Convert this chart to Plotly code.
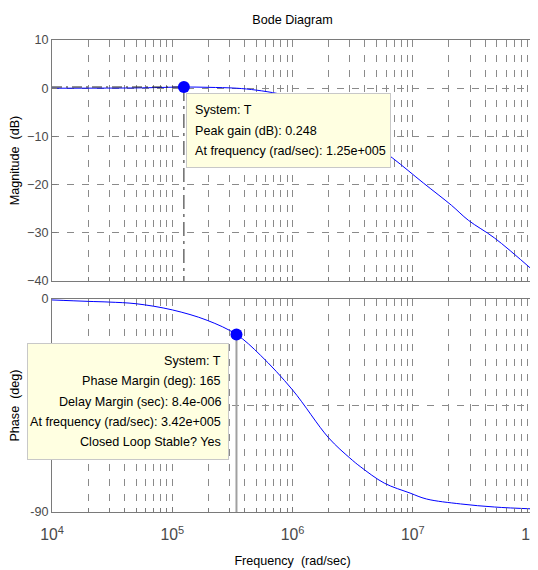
import plotly.graph_objects as go

# ---- data ----
mag_freq = [1e4, 2e4, 5e4, 8e4, 1.25e5, 2e5, 3.42e5, 5e5, 7.5e5, 1e6, 1.6e6, 2.5e6,
            4e6, 6.8e6, 1.23e7, 2.1e7, 2.9e7, 4.8e7, 1e8]
mag_db = [0.0, 0.01, 0.06, 0.15, 0.248, 0.18, 0.0, -0.4, -1.1, -1.8, -3.8, -6.9,
          -10.3, -14.5, -19.7, -24.3, -27.4, -31.1, -37.8]

ph_freq = [1e4, 2e4, 3e4, 5e4, 1e5, 1.95e5, 3.42e5, 5.4e5, 1e6, 2e6, 3e6, 3.7e6,
           5.8e6, 9.5e6, 1.3e7, 2.5e7, 4.8e7, 1e8]
ph_deg = [-0.4, -1.0, -1.3, -2.0, -4.6, -9.0, -15.0, -23.7, -38.4, -58.7, -67.2, -71.0,
          -77.8, -82.0, -84.5, -86.6, -87.9, -88.7]

peak_freq = 1.25e5
peak_gain = 0.248
pm_freq = 3.42e5
pm_phase = -15.0

mag_ticks = [10, 0, -10, -20, -30, -40]
ph_ticks = [0, -45, -90]
ph_ticklabels = ["0", " ", "-90"]

tip1_lines = ["System: T", "Peak gain (dB): 0.248", "At frequency (rad/sec): 1.25e+005"]
tip2_lines = ["System: T", "Phase Margin (deg): 165", "Delay Margin (sec): 8.4e-006",
              "At frequency (rad/sec): 3.42e+005", "Closed Loop Stable? Yes"]

# ---- layout geometry (page body has an 8px default margin) ----
OFF = 8
W, Hh = 538 - OFF, 570 - OFF
L, R, T, B = 52 - OFF, 533 - OFF, 40 - OFF, 512 - OFF
PW, PH = R - L, B - T

def px(x):
    return (x - OFF - L) / PW

def py(y):
    return (B - (y - OFF)) / PH

FONT = "Liberation Sans, Arial, sans-serif"
FS = 12.6
BLUE = "#0000ff"
GRID = "#8a8a8a"
FRAME = "#7a7a7a"
TICKC = "#4a4a4a"

fig = go.Figure()

# magnitude
fig.add_trace(go.Scatter(x=mag_freq, y=mag_db, mode="lines", line=dict(color=BLUE, width=1, shape="spline"),
                         xaxis="x", yaxis="y", showlegend=False))
fig.add_trace(go.Scatter(x=[mag_freq[0], peak_freq], y=[peak_gain, peak_gain], mode="lines",
                         line=dict(color="#222222", width=1, dash="10px,4px,2px,4px"), xaxis="x", yaxis="y", showlegend=False))
fig.add_trace(go.Scatter(x=[peak_freq, peak_freq], y=[peak_gain, mag_ticks[-1]], mode="lines",
                         line=dict(color="#222222", width=1, dash="14px,5px,3px,5px"), xaxis="x", yaxis="y", showlegend=False))
fig.add_trace(go.Scatter(x=[peak_freq], y=[peak_gain], mode="markers", marker=dict(color=BLUE, size=12),
                         xaxis="x", yaxis="y", showlegend=False))

# phase
fig.add_trace(go.Scatter(x=[pm_freq, pm_freq], y=[pm_phase, ph_ticks[-1]], mode="lines",
                         line=dict(color="#a0a0a0", width=2), xaxis="x2", yaxis="y2", showlegend=False))
fig.add_trace(go.Scatter(x=ph_freq, y=ph_deg, mode="lines", line=dict(color=BLUE, width=1, shape="spline"),
                         xaxis="x2", yaxis="y2", showlegend=False))
fig.add_trace(go.Scatter(x=[pm_freq], y=[pm_phase], mode="markers", marker=dict(color=BLUE, size=12),
                         xaxis="x2", yaxis="y2", showlegend=False))

grid_common = dict(showgrid=True, gridcolor=GRID, gridwidth=1, griddash="7px,8px", automargin=False,
                   showline=True, linecolor=FRAME, linewidth=1, mirror=True, zeroline=False)

xcommon = dict(type="log", range=[4, 8], dtick=1, exponentformat="power",
               minor=dict(dtick="D1", showgrid=True, gridcolor=GRID, griddash="7px,8px", gridwidth=1,
                          ticks="inside", ticklen=4, tickcolor=FRAME),
               ticks="inside", ticklen=5, tickcolor=FRAME,
               tickfont=dict(family=FONT, size=FS, color=TICKC), **grid_common)

top_dom = [py(281), 1.0]
bot_dom = [0.0, py(299)]

fig.update_layout(
    width=W, height=Hh,
    margin=dict(l=L, r=W - R, t=T, b=Hh - B, pad=0, autoexpand=False),
    paper_bgcolor="white", plot_bgcolor="white",
    font=dict(family=FONT, size=FS, color="black"),
    title=dict(text="Bode Diagram", x=0.5, xref="paper", xanchor="center",
               y=1 - (20 - OFF) / Hh, yref="container", yanchor="middle", automargin=False,
               font=dict(family=FONT, size=FS, color="black")),
    xaxis=dict(anchor="y", domain=[0, 1], showticklabels=False, **xcommon),
    xaxis2=dict(anchor="y2", domain=[0, 1], matches="x", showticklabels=True, ticklabeloverflow="allow",
                title=dict(text="Frequency &nbsp;(rad/sec)", font=dict(family=FONT, size=FS, color="black"), standoff=13),
                ticklabelstandoff=9, **xcommon),
    yaxis=dict(domain=top_dom, range=[-40, 10], tickvals=mag_ticks, ticks="inside", ticklen=5, tickcolor=FRAME,
               tickfont=dict(family=FONT, size=FS, color=TICKC),
               title=dict(text="Magnitude &nbsp;(dB)", font=dict(family=FONT, size=FS, color="black"), standoff=5),
               **grid_common),
    yaxis2=dict(domain=bot_dom, range=[-90, 0], tickvals=ph_ticks, ticktext=ph_ticklabels, ticks="inside",
                ticklen=5, tickcolor=FRAME, tickfont=dict(family=FONT, size=FS, color=TICKC),
                title=dict(text="Phase &nbsp;(deg)", font=dict(family=FONT, size=FS, color="black"), standoff=10),
                **grid_common),
)

TIPBG = "#ffffe1"
TIPBORDER = "#c8c8c8"
ann = []
# tooltip 1 box
ann.append(dict(text=" ", xref="paper", yref="paper", x=px(186), y=py(93), xanchor="left", yanchor="top",
                width=203, height=73, bgcolor=TIPBG, bordercolor=TIPBORDER, borderwidth=1, borderpad=0,
                showarrow=False))
for i, t in enumerate(tip1_lines):
    ann.append(dict(text=t, xref="paper", yref="paper", x=px(193), y=py(110 + 20.5 * i), xanchor="left",
                    yanchor="middle", showarrow=False, font=dict(family=FONT, size=FS, color="black")))
# tooltip 2 box
ann.append(dict(text=" ", xref="paper", yref="paper", x=px(27), y=py(343), xanchor="left", yanchor="top",
                width=200, height=115, bgcolor=TIPBG, bordercolor=TIPBORDER, borderwidth=1, borderpad=0,
                showarrow=False))
for i, t in enumerate(tip2_lines):
    ann.append(dict(text=t, xref="paper", yref="paper", x=px(223), y=py(361 + 20.3 * i), xanchor="right",
                    yanchor="middle", showarrow=False, font=dict(family=FONT, size=FS, color="black")))
fig.update_layout(annotations=ann)

fig.write_html("out.html")
